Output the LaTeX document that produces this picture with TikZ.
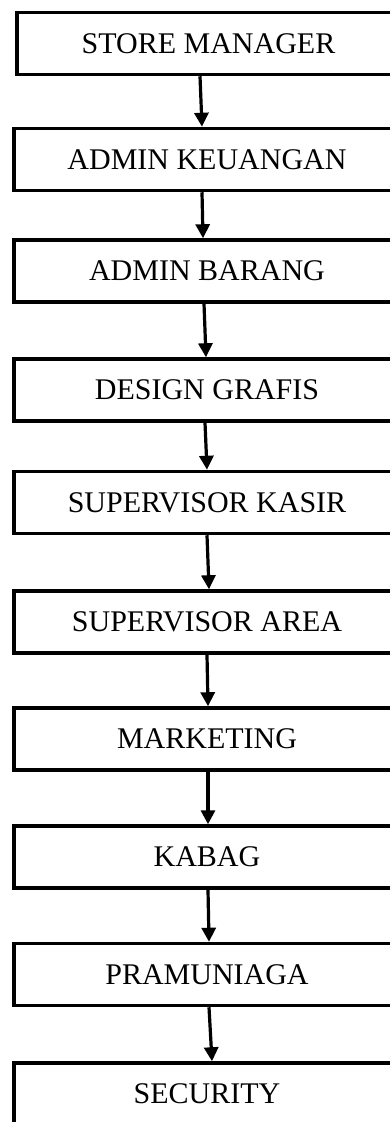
\documentclass[tikz,border=0pt]{standalone}
\usepackage{fontspec}
\setmainfont{Liberation Serif}
\usepackage{tikz}
\usetikzlibrary{arrows.meta,positioning}

\begin{document}
\begin{tikzpicture}[
    x=1pt, y=-1pt,
    box/.style={rectangle, draw, line width=3.5pt, minimum width=386pt, minimum height=62pt, align=center, font=\fontsize{30}{36}\selectfont},
    arrow/.style={-{Triangle[width=14pt,length=14pt]}, line width=3.2pt}
]
    \useasboundingbox (0,0) rectangle (390,1122);
    \clip (0,0) rectangle (390,1122);

    % Boxes
    \node[box, minimum width=383pt] (manager) at (208.5,43.5) {STORE MANAGER};
    \node[box] (keuangan) at (207,159.5) {ADMIN KEUANGAN};
    \node[box] (barang) at (207,271) {ADMIN BARANG};
    \node[box] (design) at (207,390) {DESIGN GRAFIS};
    \node[box] (kasir) at (207,502.5) {SUPERVISOR KASIR};
    \node[box] (area) at (207,622) {SUPERVISOR AREA};
    \node[box] (marketing) at (207,739) {MARKETING};
    \node[box] (kabag) at (207,857) {KABAG};
    \node[box] (pramuniaga) at (207,974.5) {PRAMUNIAGA};
    \node[box] (security) at (207,1094) {SECURITY};

    % Arrows
    \draw[arrow] ([xshift=-8.5]manager.south) -- ([xshift=-5]keuangan.north);
    \draw[arrow] ([xshift=-5]keuangan.south) -- ([xshift=-4]barang.north);
    \draw[arrow] ([xshift=-3]barang.south) -- ([xshift=-1]design.north);
    \draw[arrow] ([xshift=-2]design.south) -- ([xshift=0]kasir.north);
    \draw[arrow] ([xshift=0]kasir.south) -- ([xshift=2]area.north);
    \draw[arrow] ([xshift=0]area.south) -- ([xshift=1]marketing.north);
    \draw[arrow] ([xshift=1]marketing.south) -- ([xshift=1]kabag.north);
    \draw[arrow] ([xshift=1]kabag.south) -- ([xshift=2]pramuniaga.north);
    \draw[arrow] ([xshift=2]pramuniaga.south) -- ([xshift=5]security.north);

\end{tikzpicture}
\end{document}
